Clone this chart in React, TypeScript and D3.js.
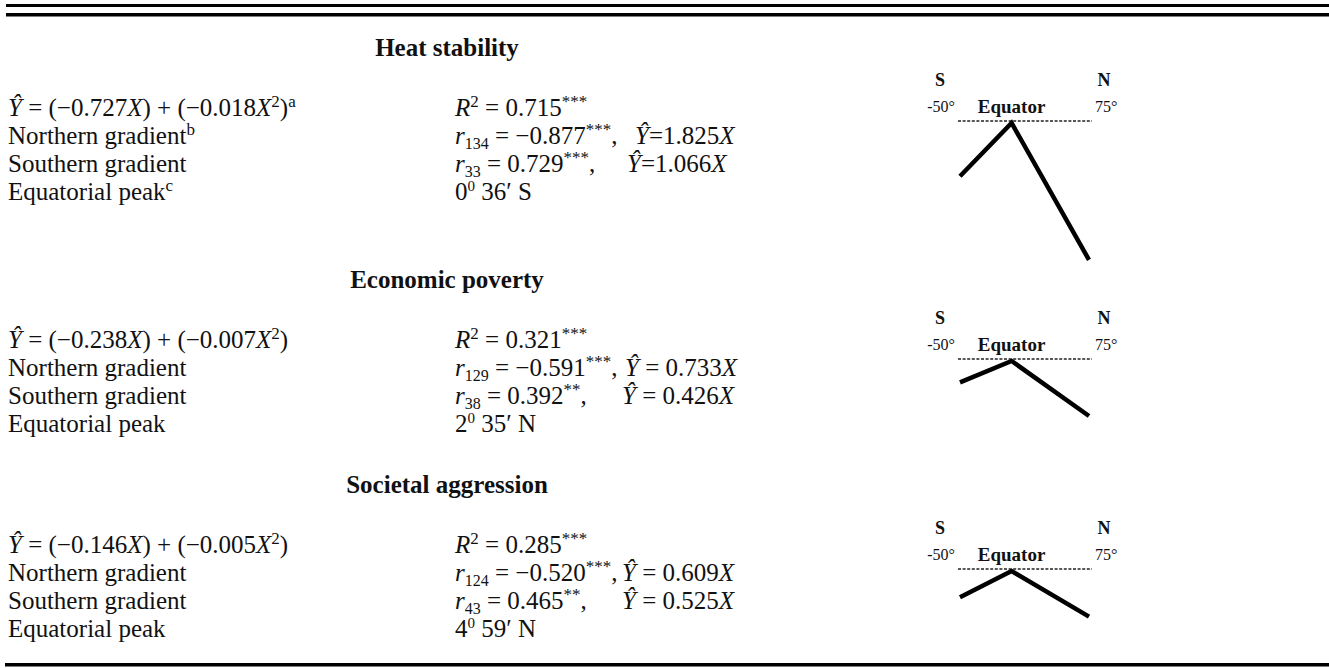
import React from "react";
import * as d3 from "d3";

const W = 1329;
const H = 668;
const FONT = "'Liberation Serif', 'Times New Roman', serif";

// ---- data ----
const sections = ["Heat stability", "Economic poverty", "Societal aggression"];
const linearCoef = [-0.727, -0.238, -0.146];
const quadCoef = [-0.018, -0.007, -0.005];
const rSquared = [0.715, 0.321, 0.285];
const northN = [134, 129, 124];
const northR = [-0.877, -0.591, -0.52];
const northStars = ["***", "***", "***"];
const northSlope = [1.825, 0.733, 0.609];
const southN = [33, 38, 43];
const southR = [0.729, 0.392, 0.465];
const southStars = ["***", "**", "**"];
const southSlope = [1.066, 0.426, 0.525];
const peakDeg = [0, 2, 4];
const peakMin = [36, 35, 59];
const peakHem = ["S", "N", "N"];
const latExtent = [-50, 75];
const latLabels = ["-50°", "75°"];

// ---- layout ----
const titleY = [56, 288, 493];
const rowGap = 28;
const rowOffset = 60;
const dashY = [121, 359, 569];
const northYhatX = [635, 625, 622];
const southYhatX = [627, 622, 622];
const leftX = 8;
const midX = 455;

type Seg = { t: string; i?: boolean; sup?: boolean; sub?: boolean; x?: number; fs?: number };

const fmt = (v: number) => (v < 0 ? "\u2212" : "") + Math.abs(v).toFixed(3);

function Rich({ x, y, segs, size = 25 }: { x: number; y: number; segs: Seg[]; size?: number }) {
  let cur = 0;
  return (
    <text x={x} y={y} fontSize={size} fontFamily={FONT} fill="#111" style={{ whiteSpace: "pre" }}>
      {segs.map((s, k) => {
        const target = s.sup ? -9 : s.sub ? 5 : 0;
        const dy = target - cur;
        cur = target;
        return (
          <tspan
            key={k}
            x={s.x}
            dy={dy !== 0 ? dy : undefined}
            fontStyle={s.i ? "italic" : undefined}
            fontSize={s.fs ?? (s.sup || s.sub ? 17 : undefined)}
          >
            {s.t}
          </tspan>
        );
      })}
    </text>
  );
}

function Diagram({ idx }: { idx: number }) {
  const D = dashY[idx];
  const x = d3.scaleLinear().domain(latExtent).range([960, 1089]);
  const y = d3.scaleLinear().domain([0, 1]).range([D + 2, D + 3]);
  const pts: [number, number][] = [
    [latExtent[0], southSlope[idx] * Math.abs(latExtent[0])],
    [0, 0],
    [latExtent[1], northSlope[idx] * latExtent[1]],
  ];
  const line = d3
    .line<[number, number]>()
    .x((d) => x(d[0]))
    .y((d) => y(d[1]));
  return (
    <g fontFamily={FONT} fill="#111">
      <text x={x(latExtent[0]) - 20} y={D - 35} fontSize={18} fontWeight="bold" textAnchor="middle">S</text>
      <text x={x(latExtent[1]) + 15} y={D - 35} fontSize={18} fontWeight="bold" textAnchor="middle">N</text>
      <text x={x(latExtent[0]) - 5} y={D - 9} fontSize={16} textAnchor="end">{latLabels[0]}</text>
      <text x={x(latExtent[1]) + 6} y={D - 9} fontSize={16} textAnchor="start">{latLabels[1]}</text>
      <text x={x(0)} y={D - 8} fontSize={19} fontWeight="bold" textAnchor="middle">Equator</text>
      <line x1={x(latExtent[0]) - 2} x2={x(latExtent[1]) + 3} y1={D} y2={D} stroke="#222" strokeWidth={1.6} strokeDasharray="3,1.6" />
      <path d={line(pts) || ""} fill="none" stroke="#000" strokeWidth={4.5} strokeLinejoin="miter" />
    </g>
  );
}

export default function App() {
  return (
    <svg width={W} height={H} style={{ position: "absolute", left: 0, top: 0, background: "#fff" }}>
      <rect x={0} y={0} width={W} height={H} fill="#fff" />
      <rect x={6} y={4} width={W - 6} height={3} fill="#000" />
      <rect x={6} y={13} width={W - 6} height={3.5} fill="#000" />
      <rect x={5} y={663} width={W - 5} height={3.5} fill="#000" />
      {sections.map((name, i) => {
        const r0 = titleY[i] + rowOffset;
        const rows = [0, 1, 2, 3].map((k) => r0 + k * rowGap);
        const eq = i === 0 ? "=" : " = ";
        return (
          <g key={name}>
            <text x={447} y={titleY[i]} fontSize={25} fontWeight="bold" fontFamily={FONT} textAnchor="middle" fill="#111">
              {name}
            </text>
            <Rich
              x={leftX}
              y={rows[0]}
              segs={[
                { t: "Ŷ", i: true },
                { t: " = (" + fmt(linearCoef[i]) },
                { t: "X", i: true },
                { t: ") + (" + fmt(quadCoef[i]) },
                { t: "X", i: true },
                { t: "2", sup: true },
                { t: ")" },
                ...(i === 0 ? [{ t: "a", sup: true }] : []),
              ]}
            />
            <Rich x={leftX} y={rows[1]} segs={[{ t: "Northern gradient" }, ...(i === 0 ? [{ t: "b", sup: true }] : [])]} />
            <Rich x={leftX} y={rows[2]} segs={[{ t: "Southern gradient" }]} />
            <Rich x={leftX} y={rows[3]} segs={[{ t: "Equatorial peak" }, ...(i === 0 ? [{ t: "c", sup: true }] : [])]} />

            <Rich
              x={midX}
              y={rows[0]}
              segs={[{ t: "R", i: true }, { t: "2", sup: true }, { t: " = " + rSquared[i].toFixed(3) }, { t: "***", sup: true }]}
            />
            <Rich
              x={midX}
              y={rows[1]}
              segs={[
                { t: "r", i: true },
                { t: String(northN[i]), sub: true, fs: 16 },
                { t: " = " + fmt(northR[i]) },
                { t: northStars[i], sup: true },
                { t: "," },
                { t: "Ŷ", i: true, x: northYhatX[i] },
                { t: eq + northSlope[i].toFixed(3) },
                { t: "X", i: true },
              ]}
            />
            <Rich
              x={midX}
              y={rows[2]}
              segs={[
                { t: "r", i: true },
                { t: String(southN[i]), sub: true, fs: 16 },
                { t: " = " + fmt(southR[i]) },
                { t: southStars[i], sup: true },
                { t: "," },
                { t: "Ŷ", i: true, x: southYhatX[i] },
                { t: eq + southSlope[i].toFixed(3) },
                { t: "X", i: true },
              ]}
            />
            <Rich
              x={midX}
              y={rows[3]}
              segs={[{ t: String(peakDeg[i]) }, { t: "0", sup: true, fs: 15 }, { t: ` ${peakMin[i]}\u2032 ${peakHem[i]}` }]}
            />
            <Diagram idx={i} />
          </g>
        );
      })}
    </svg>
  );
}
